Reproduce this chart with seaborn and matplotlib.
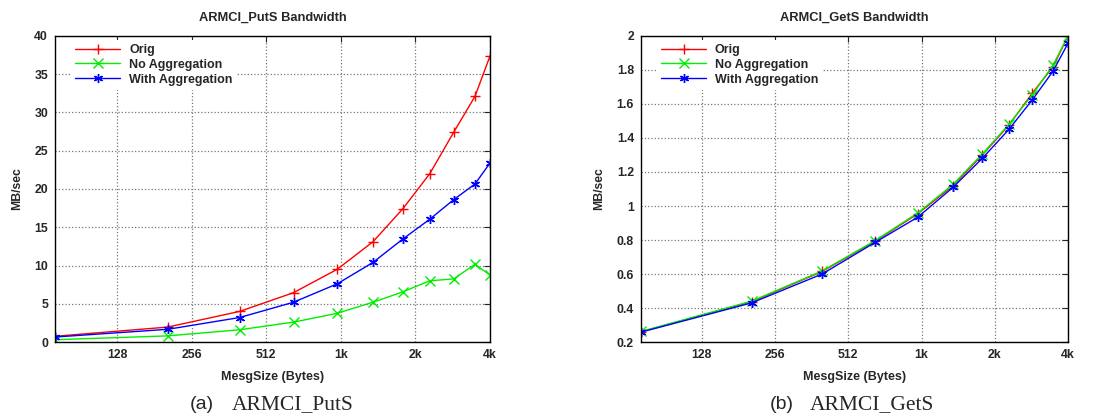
import matplotlib
matplotlib.use('Agg')
import matplotlib.pyplot as plt
import numpy as np
import pandas as pd
import seaborn as sns

# message sizes (bytes)
msg_sizes = [72, 205, 400, 660, 990, 1380, 1820, 2340, 2920, 3560, 4096]
series_names = ['Orig', 'No Aggregation', 'With Aggregation']

puts_orig = [0.75, 1.95, 4.0, 6.45, 9.5, 13.1, 17.4, 22.0, 27.4, 32.1, 37.4]
puts_noagg = [0.3, 0.8, 1.6, 2.6, 3.75, 5.2, 6.55, 8.0, 8.25, 10.15, 8.75]
puts_agg = [0.65, 1.66, 3.2, 5.2, 7.6, 10.4, 13.45, 16.05, 18.6, 20.65, 23.4]

gets_orig = [0.26, 0.437, 0.615, 0.793, 0.955, 1.12, 1.30, 1.475, 1.663, 1.82, 2.0]
gets_noagg = [0.262, 0.44, 0.618, 0.796, 0.96, 1.127, 1.306, 1.48, 1.653, 1.83, 2.0]
gets_agg = [0.258, 0.43, 0.60, 0.786, 0.935, 1.11, 1.28, 1.45, 1.624, 1.794, 1.957]

xtick_vals = [128, 256, 512, 1024, 2048, 4096]
xtick_labels = ['128', '256', '512', '1k', '2k', '4k']


def make_df(orig, noagg, agg):
    rows = []
    for name, vals in zip(series_names, [orig, noagg, agg]):
        for x, y in zip(msg_sizes, vals):
            rows.append({'size': x, 'bw': y, 'series': name})
    return pd.DataFrame(rows)


sns.set_style('white')
plt.rcParams['font.family'] = ['Liberation Sans', 'DejaVu Sans']

palette = {'Orig': '#ff0000', 'No Aggregation': '#00ee00',
           'With Aggregation': '#0000ff'}
markers = {'Orig': '+', 'No Aggregation': 'x',
           'With Aggregation': (6, 2, 0)}
msize = 6.5

fig = plt.figure(figsize=(11.14, 4.2), dpi=100)
ax1 = fig.add_axes([0.0494, 0.1857, 0.3905, 0.7286])
ax2 = fig.add_axes([0.5754, 0.1857, 0.3833, 0.7286])

panels = [
    (ax1, make_df(puts_orig, puts_noagg, puts_agg), 'ARMCI_PutS Bandwidth',
     (0, 40), np.arange(0, 41, 5), '(a)', 'ARMCI_PutS', 214, 232),
    (ax2, make_df(gets_orig, gets_noagg, gets_agg), 'ARMCI_GetS Bandwidth',
     (0.2, 2.0), np.round(np.arange(0.2, 2.01, 0.2), 1), '(b)', 'ARMCI_GetS', 794, 810),
]

for ax, df, title, ylim, yticks, tag, caption, tag_x, cap_x in panels:
    sns.lineplot(data=df, x='size', y='bw', hue='series', style='series',
                 palette=palette, markers=markers, dashes=False,
                 markersize=msize, markeredgewidth=1.0, linewidth=1.0,
                 ax=ax, legend=False)
    # seaborn paints marker edges white; use the line colour instead
    for ln in ax.lines:
        ln.set_markeredgecolor(ln.get_color())
        ln.set_markerfacecolor(ln.get_color())
    ax.set_xscale('log', base=2)
    ax.set_xlim(72, 4096)
    ax.set_ylim(*ylim)
    ax.set_xticks(xtick_vals)
    ax.set_xticklabels(xtick_labels)
    ax.xaxis.set_minor_locator(matplotlib.ticker.NullLocator())
    ax.set_yticks(yticks)
    ax.set_yticklabels([f'{v:g}' for v in yticks])
    ax.tick_params(direction='in', top=True, right=True, length=4,
                   width=0.8, labelsize=8.8, pad=5)
    for lab in ax.get_xticklabels() + ax.get_yticklabels():
        lab.set_fontweight('bold')
    ax.grid(True, linestyle=':', color='#777777', linewidth=0.9)
    for sp in ax.spines.values():
        sp.set_color('black')
        sp.set_linewidth(1.0)
    ax.set_title(title, fontsize=9.3, fontweight='bold', pad=11)
    ax.set_xlabel('MesgSize (Bytes)', fontsize=9, fontweight='bold', labelpad=7)
    ax.set_ylabel('MB/sec', fontsize=8.8, fontweight='bold', labelpad=8)

    handles = [matplotlib.lines.Line2D([], [], color=palette[n], marker=markers[n],
                                       markersize=msize, markeredgewidth=1.0,
                                       linewidth=1.0) for n in series_names]
    leg = ax.legend(handles, series_names, loc='upper left',
                    bbox_to_anchor=(0.028, 1.0), frameon=True,
                    fancybox=False, handlelength=3.6, handletextpad=0.7,
                    labelspacing=0.22, borderpad=0.35, borderaxespad=0.3,
                    prop={'size': 9, 'weight': 'bold'})
    leg.get_frame().set_edgecolor('none')
    leg.get_frame().set_facecolor('white')
    leg.get_frame().set_alpha(1.0)

    fig.text(tag_x / 1114, 0.036, tag, ha='right', va='center', fontsize=14,
             family=['Liberation Sans', 'DejaVu Sans'])
    fig.text(cap_x / 1114, 0.036, caption, ha='left', va='center', fontsize=15.5,
             family=['Liberation Serif', 'DejaVu Serif'])

fig.savefig('out.png', dpi=100)
